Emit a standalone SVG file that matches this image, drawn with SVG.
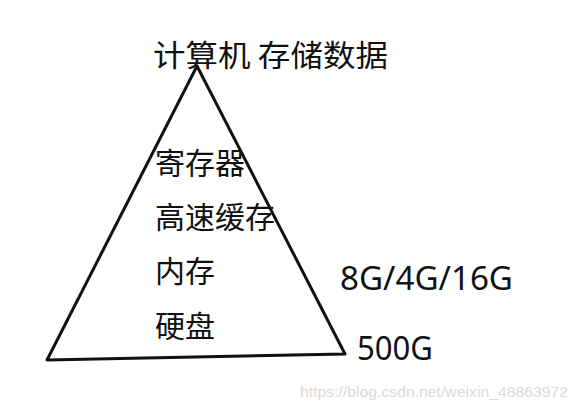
<svg xmlns="http://www.w3.org/2000/svg" width="579" height="405" viewBox="0 0 579 405">
<style>
.cjk{font-family:"Noto Sans CJK SC","Noto Sans",sans-serif;font-size:30px;fill:#111}
.lat{font-family:"Noto Sans","Open Sans",sans-serif;font-size:32px;fill:#111}
.wm{font-family:"Liberation Sans","DejaVu Sans",sans-serif;font-size:14px;fill:#d9d9d9}
</style>
<rect width="579" height="405" fill="#fff"/>
<g id="pyramid">
<polygon points="197,66 345,354 47,360" fill="none" stroke="#111" stroke-width="3" stroke-linejoin="round"/>
</g>
<g id="title"><text class="cjk" x="153" y="66" textLength="235" lengthAdjust="spacingAndGlyphs">计算机 存储数据</text></g>
<g id="register"><text class="cjk" x="155" y="174">寄存器</text></g>
<g id="cache"><text class="cjk" x="155" y="228">高速缓存</text></g>
<g id="memory"><text class="cjk" x="155" y="282">内存</text></g>
<g id="disk"><text class="cjk" x="155" y="337">硬盘</text></g>
<g id="memsize"><text class="lat" x="340" y="290" textLength="173" lengthAdjust="spacingAndGlyphs">8G/4G/16G</text></g>
<g id="disksize"><text class="lat" x="357" y="360" textLength="76" lengthAdjust="spacingAndGlyphs">500G</text></g>
<text class="wm" x="300" y="397" textLength="268" lengthAdjust="spacingAndGlyphs">https://blog.csdn.net/weixin_48863972</text>
</svg>
